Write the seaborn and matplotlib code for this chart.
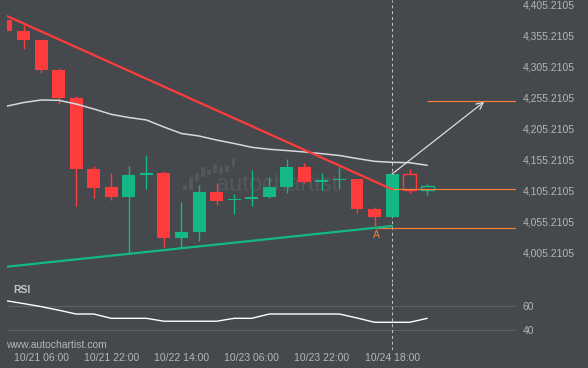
import numpy as np
import pandas as pd
import seaborn as sns
import matplotlib.pyplot as plt

# candle data (4h bars)
opens  = [4379.6, 4361.8, 4347.3, 4299.0, 4253.9, 4139.5, 4110.5, 4094.9, 4130.3, 4133.1,
          4028.8, 4038.5, 4102.5, 4089.1, 4091.7, 4094.9, 4111.0, 4142.7, 4119.1, 4121.8,
          4123.4, 4075.1, 4062.7, 4131.5, 4105.2]
highs  = [4382.0, 4371.5, 4348.0, 4301.7, 4257.6, 4144.3, 4133.6, 4144.3, 4162.1, 4135.8,
          4086.4, 4113.3, 4116.5, 4099.7, 4137.4, 4126.1, 4155.1, 4148.7, 4132.6, 4143.2,
          4124.0, 4077.8, 4132.0, 4139.5, 4115.4]
lows   = [4360.0, 4333.3, 4293.7, 4244.7, 4080.4, 4093.3, 4089.6, 4002.6, 4106.8, 4014.3,
          4012.2, 4023.0, 4081.0, 4066.5, 4079.4, 4092.8, 4100.4, 4116.5, 4105.7, 4107.8,
          4069.1, 4044.9, 4062.0, 4101.3, 4097.2]
closes = [4362.3, 4347.8, 4299.5, 4254.4, 4140.0, 4109.4, 4094.9, 4129.9, 4133.6, 4028.8,
          4037.5, 4102.5, 4088.4, 4091.7, 4094.4, 4110.0, 4142.7, 4119.1, 4121.8, 4123.9,
          4075.6, 4062.7, 4131.5, 4105.2, 4111.6]
ma_values = [4240.5, 4246.6, 4250.7, 4250.2, 4244.2, 4236.2, 4227.6, 4222.5, 4218.5, 4207.2,
             4196.7, 4192.7, 4186.2, 4180.6, 4174.5, 4171.3, 4169.3, 4167.0, 4164.2, 4161.3,
             4156.4, 4151.9, 4150.3, 4149.7, 4145.5]
rsi_values = [64.4, 62.0, 59.5, 56.5, 53.3, 53.3, 49.7, 49.7, 49.7, 47.3,
              47.3, 47.3, 47.3, 49.7, 49.7, 53.3, 53.3, 53.3, 53.3, 53.3,
              50.0, 46.4, 46.4, 46.4, 49.7]

resistance_x = [0, 22]
resistance_y = [4386.7, 4106.8]
support_x = [0, 22]
support_y = [3982.0, 4047.7]
target_level = 4248.6
breakout_level = 4106.8
low_level = 4044.5
point_a = (21.1, 4033.0)

tick_pos = [2, 6, 10, 14, 18, 22]
tick_labels = ['10/21 06:00', '10/21 22:00', '10/22 14:00', '10/23 06:00', '10/23 22:00', '10/24 18:00']
price_ticks = [4005.2105, 4055.2105, 4105.2105, 4155.2105, 4205.2105, 4255.2105,
               4305.2105, 4355.2105, 4405.2105]

# watermark logo (little candles)
logo_top = [255, 232, 220, 202, 210, 193, 202, 197, 175]
logo_bottom = [270, 270, 243, 232, 225, 220, 222, 215, 200]

bg = '#45484c'
red = '#ff3c3c'
green = '#14b886'
orange = '#f47c3c'
txt = '#b4b6b9'
wm = '#53565a'

sns.set_style('dark', {'axes.facecolor': bg, 'figure.facecolor': bg})
plt.rcParams['font.family'] = ['Liberation Sans', 'DejaVu Sans']

fig = plt.figure(figsize=(5.88, 3.68), dpi=100)
logo = fig.add_axes([181.7/588, 1 - 191.7/368, 55/588, 35/368])
ax = fig.add_axes([7/588, 1 - 282/368, 509/588, 282/368])
ax2 = fig.add_axes([7/588, 1 - 350/368, 509/588, 68/368])
ax.patch.set_alpha(0)

idx = np.arange(len(opens))
df = pd.DataFrame({'i': idx, 'open': opens, 'high': highs, 'low': lows,
                   'close': closes, 'ma': ma_values, 'rsi': rsi_values})

# watermark
lx = np.arange(len(logo_top))
logo.bar(lx, np.array(logo_bottom) - np.array(logo_top), bottom=logo_top,
         width=0.62, color=wm, lw=0)
logo.set_xlim(-0.55, len(logo_top) - 0.45)
logo.set_ylim(275, 170)
logo.axis('off')
ax.text(15.45, 4113.5, 'autochartist', ha='center', va='center', fontsize=17,
        color=wm, zorder=1)

# candles
n_hollow = 2
for _, r in df.iterrows():
    up = r['close'] >= r['open']
    col = green if up else red
    ax.vlines(r['i'], r['low'], r['high'], color=col, lw=1, zorder=2)
    h = max(abs(r['close'] - r['open']), 0.8)
    if r['i'] >= len(df) - n_hollow:
        ax.bar(r['i'], h, bottom=min(r['open'], r['close']), width=0.72,
               facecolor=bg, edgecolor=col, lw=1, zorder=3)
    else:
        ax.bar(r['i'], h, bottom=min(r['open'], r['close']), width=0.74,
               color=col, lw=0, zorder=3)

sns.lineplot(data=df, x='i', y='ma', ax=ax, color='#d8d8d8', lw=1.1, zorder=4)
ax.plot(resistance_x, resistance_y, color=red, lw=1.6, zorder=5)
ax.plot(support_x, support_y, color=green, lw=1.6, zorder=5)

ax.hlines(breakout_level, 22, 30, color=orange, lw=0.9, zorder=4)
ax.hlines(low_level, 21, 30, color=orange, lw=0.9, zorder=4)
ax.hlines(target_level, 24, 30, color=orange, lw=0.9, zorder=4)
ax.annotate('', xy=(27.25, 4248.0), xytext=(22, 4131.5),
            arrowprops=dict(arrowstyle='->', color='#dcdcdc', lw=0.9,
                            mutation_scale=12, shrinkA=0, shrinkB=0), zorder=6)
ax.text(point_a[0], point_a[1], 'A', color=orange, fontsize=7.5,
        ha='center', va='center')

ax.axvline(22, color='#c8c8c8', ls=(0, (3, 3)), lw=0.7, zorder=1)

ax.set_xlim(0.057, 29.06)
ax.set_ylim(3957.5, 4411.8)
ax.set_xticks([])
ax.yaxis.tick_right()
ax.set_yticks(price_ticks)
ax.set_yticklabels([f'{v:,.4f}' for v in price_ticks])
ax.tick_params(axis='y', length=0, pad=5, labelsize=7.5, labelcolor=txt)
ax.set_xlabel('')
ax.set_ylabel('')
ax.grid(False)
for s in ax.spines.values():
    s.set_visible(False)

# RSI panel
sns.lineplot(data=df, x='i', y='rsi', ax=ax2, color='white', lw=1.0, zorder=3)
ax2.axvline(22, color='#c8c8c8', ls=(0, (3, 3)), lw=0.7, zorder=1)
ax2.set_xlim(0.057, 29.06)
ax2.set_ylim(23.3, 80)
ax2.yaxis.tick_right()
ax2.set_yticks([40, 60])
ax2.grid(False)
for yv in [40, 60]:
    ax2.axhline(yv, color='#5c5f64', lw=0.8, zorder=0)
ax2.set_xticks(tick_pos)
ax2.set_xticklabels(tick_labels)
ax2.tick_params(axis='y', length=0, pad=5, labelsize=7.5, labelcolor=txt)
ax2.tick_params(axis='x', length=0, pad=2, labelsize=7.5, labelcolor=txt)
ax2.set_xlabel('')
ax2.set_ylabel('')
for s in ax2.spines.values():
    s.set_visible(False)
ax2.text(0.012, 0.88, 'RSI', transform=ax2.transAxes, fontsize=7.5,
         fontweight='bold', color='#c4c6c8', va='center')
fig.text(6/588, 1 - 344.7/368, 'www.autochartist.com', fontsize=7.5,
         color=txt, va='center')

fig.savefig('out.png', dpi=100, facecolor=bg)
